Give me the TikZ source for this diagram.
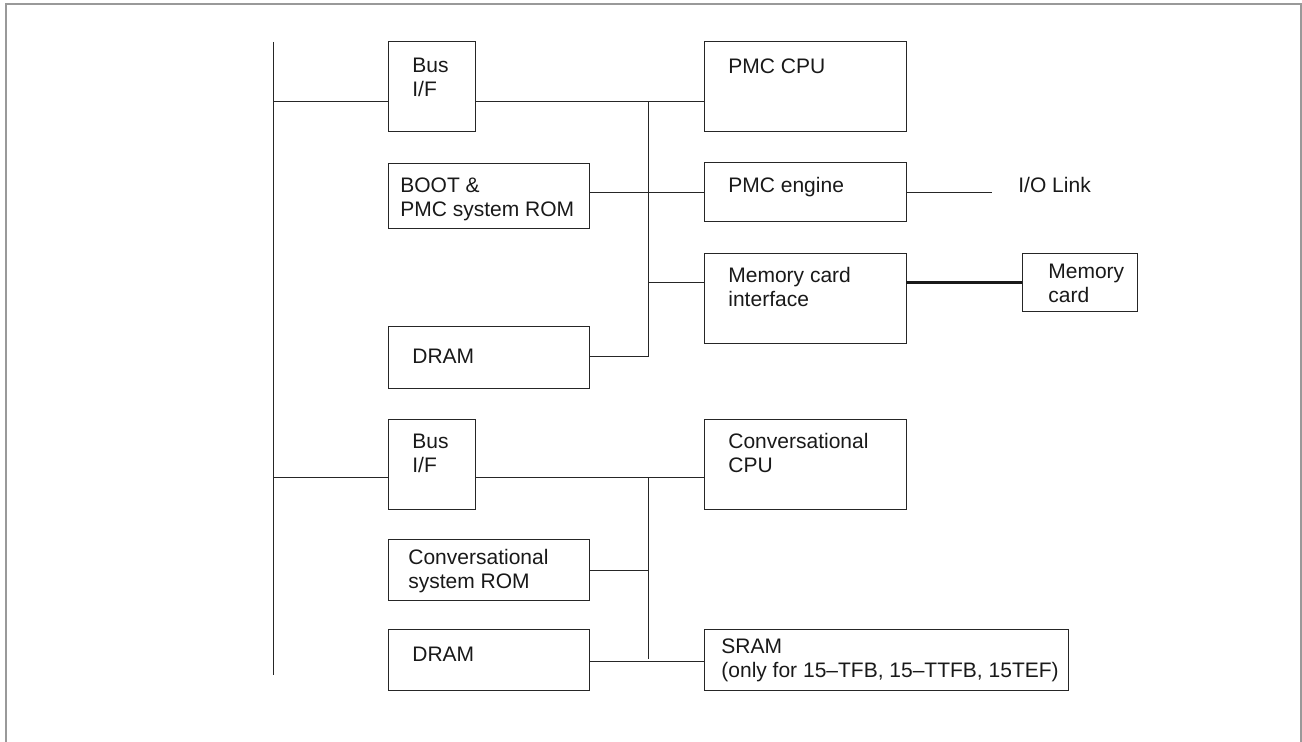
\documentclass[tikz,border=0pt]{standalone}
\usepackage{fontspec}
\setmainfont{Liberation Sans}
\begin{document}
\begin{tikzpicture}[x=0.5pt,y=-0.5pt,
  box/.style={draw=black!85, line width=0.5pt, inner sep=0pt, outer sep=0pt},
  txt/.style={anchor=base west, inner sep=0pt, align=left, text=black!90,
    font=\fontsize{10.5pt}{12pt}\selectfont},
  wire/.style={draw=black!85, line width=0.5pt},
  thick wire/.style={draw=black!90, line width=1.5pt},
  frame/.style={draw=black!40, line width=1pt}]
\useasboundingbox (0,0) rectangle (1302,742);
\draw[frame] (6,742) -- (6,4) -- (1301,4) -- (1301,742);
% boxes
\node[box, minimum width=43.5pt, minimum height=45pt] (bif1) at (431.5,87) {};
\node[box, minimum width=101pt, minimum height=45pt] (pmccpu) at (805,87) {};
\node[box, minimum width=100.5pt, minimum height=32.5pt] (boot) at (488.5,196.5) {};
\node[box, minimum width=101pt, minimum height=29.5pt] (eng) at (805,192.5) {};
\node[box, minimum width=101pt, minimum height=45pt] (mci) at (805,299) {};
\node[box, minimum width=57.5pt, minimum height=29pt] (mc) at (1079.5,283) {};
\node[box, minimum width=100.5pt, minimum height=31pt] (dram1) at (488.5,358) {};
\node[box, minimum width=43.5pt, minimum height=45pt] (bif2) at (431.5,465) {};
\node[box, minimum width=101pt, minimum height=45pt] (ccpu) at (805,465) {};
\node[box, minimum width=100.5pt, minimum height=30.5pt] (crom) at (488.5,570.5) {};
\node[box, minimum width=100.5pt, minimum height=30.5pt] (dram2) at (488.5,660.5) {};
\node[box, minimum width=182pt, minimum height=30.5pt] (sram) at (886,660.5) {};
% texts (multi-line nodes are placed by the baseline of their last line)
\node[txt] (t-bif1) at (412,97) {Bus\\I/F};
\node[txt] (t-pmccpu) at (728,74) {PMC CPU};
\node[txt] (t-boot) at (400,217) {BOOT \&\\PMC system ROM};
\node[txt] (t-eng) at (728,193) {PMC engine};
\node[txt] (io) at (1018,193) {I/O Link};
\node[txt] (t-mci) at (728,307) {Memory card\\interface};
\node[txt] (t-mc) at (1048,303) {Memory\\card};
\node[txt] (t-dram1) at (412,364) {DRAM};
\node[txt] (t-bif2) at (412,473) {Bus\\I/F};
\node[txt] (t-ccpu) at (728,473) {Conversational\\CPU};
\node[txt] (t-crom) at (408,589) {Conversational\\system ROM};
\node[txt] (t-dram2) at (412,662) {DRAM};
\node[txt] (t-sram) at (721,678) {SRAM\\(only for 15--TFB, 15--TTFB, 15TEF)};
% coordinates
\coordinate (busT) at (273,42);
\coordinate (busB) at (273,675);
\coordinate (j1) at (273,102);
\coordinate (j2) at (273,478);
\coordinate (v1t) at (648,102);
\coordinate (v1b) at (648,357);
\coordinate (v2t) at (648,478);
\coordinate (v2b) at (648,659);
\coordinate (ioend) at (992,193);
% connectors
\draw[wire] (busT) -- (busB);
\draw[wire] (j1) -- (j1 -| bif1.west);
\draw[wire] (bif1.east |- j1) -- (pmccpu.west |- j1);
\draw[wire] (v1t) -- (v1b);
\draw[wire] (boot.east |- ioend) -- (eng.west |- ioend);
\draw[wire] (eng.east |- ioend) -- (ioend);
\draw[wire] (v1t |- mc.west) -- (mci.west |- mc.west);
\draw[thick wire] (mci.east |- mc.west) -- (mc.west);
\draw[wire] (dram1.east |- v1b) -- (v1b);
\draw[wire] (j2) -- (j2 -| bif2.west);
\draw[wire] (bif2.east |- j2) -- (ccpu.west |- j2);
\draw[wire] (v2t) -- (v2b);
\draw[wire] (crom.east) -- (crom.east -| v2t);
\draw[wire] (dram2.east |- 0,662) -- (sram.west |- 0,662);
\end{tikzpicture}
\end{document}
